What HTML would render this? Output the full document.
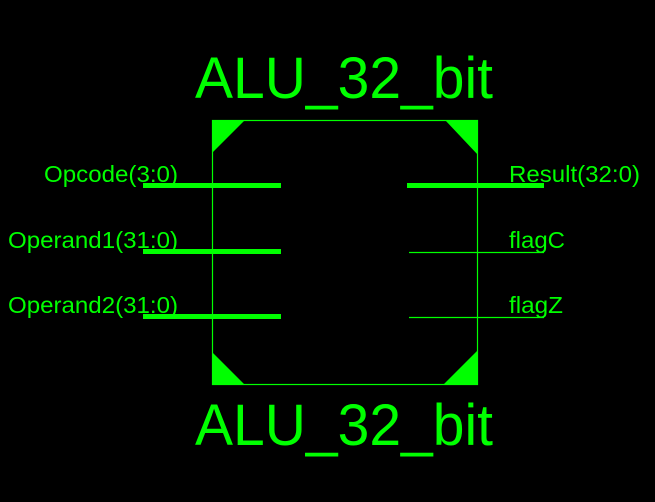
<!DOCTYPE html>
<html><head><meta charset="utf-8"><style>html,body{margin:0;background:#000;}svg{display:block}</style></head>
<body>
<svg width="655" height="502" viewBox="0 0 655 502" xmlns="http://www.w3.org/2000/svg" font-family="Liberation Sans, sans-serif" fill="#00ff00">
<rect width="655" height="502" fill="#000"/>
<text x="344" y="98" font-size="58" text-anchor="middle" textLength="298" lengthAdjust="spacingAndGlyphs">ALU_32_bit</text>
<text x="344" y="445" font-size="58" text-anchor="middle" textLength="298" lengthAdjust="spacingAndGlyphs">ALU_32_bit</text>
<rect x="212.5" y="120.5" width="265" height="264" fill="none" stroke="#00ff00" stroke-width="1.2"/>
<polygon points="212,120 245,120 212,153"/>
<polygon points="478,120 445,120 478,155"/>
<polygon points="212,385 245,385 212,352"/>
<polygon points="478,385 443,385 478,350"/>
<g stroke="#00ff00">
<line x1="143" y1="185.5" x2="281" y2="185.5" stroke-width="5"/>
<line x1="143" y1="251.5" x2="281" y2="251.5" stroke-width="5"/>
<line x1="143" y1="316.5" x2="281" y2="316.5" stroke-width="5"/>
<line x1="407" y1="185.5" x2="544" y2="185.5" stroke-width="5"/>
<line x1="409" y1="252.5" x2="544" y2="252.5" stroke-width="1.2"/>
<line x1="409" y1="317.5" x2="544" y2="317.5" stroke-width="1.2"/>
</g>
<g font-size="23">
<text x="44" y="182" textLength="134" lengthAdjust="spacingAndGlyphs">Opcode(3:0)</text>
<text x="8" y="248" textLength="170" lengthAdjust="spacingAndGlyphs">Operand1(31:0)</text>
<text x="8" y="313" textLength="170" lengthAdjust="spacingAndGlyphs">Operand2(31:0)</text>
<text x="509" y="182" textLength="131" lengthAdjust="spacingAndGlyphs">Result(32:0)</text>
<text x="509" y="248" textLength="56" lengthAdjust="spacingAndGlyphs">flagC</text>
<text x="509" y="313" textLength="54" lengthAdjust="spacingAndGlyphs">flagZ</text>
</g>
</svg>
</body></html>
